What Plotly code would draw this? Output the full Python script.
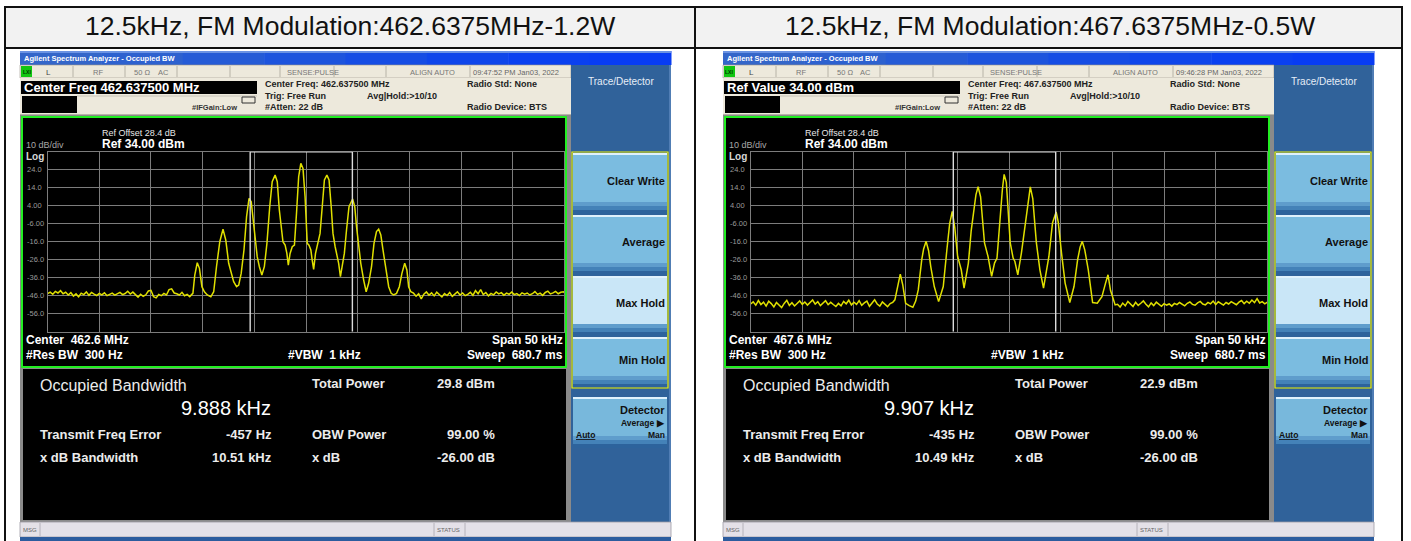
import plotly.graph_objects as go

W, H = 1411, 541
FONT = "Liberation Sans, Arial, sans-serif"

# ---------------- data ----------------
PANEL_TITLES = ["12.5kHz, FM Modulation:462.6375MHz-1.2W",
                "12.5kHz, FM Modulation:467.6375MHz-0.5W"]
ACTIVE_FIELD = ["Center Freq 462.637500 MHz", "Ref Value 34.00 dBm"]
TIMESTAMPS = ["09:47:52 PM Jan03, 2022", "09:46:28 PM Jan03, 2022"]
CENTER_FREQ_SETTING = ["462.637500 MHz", "467.637500 MHz"]
CENTER_LABEL = ["462.6 MHz", "467.6 MHz"]
OBW_KHZ = [9.888, 9.907]
TOTAL_POWER_DBM = [29.8, 22.9]
FREQ_ERROR_HZ = [-457, -435]
XDB_BW_KHZ = [10.51, 10.49]
OBW_POWER_PCT = 99.00
XDB_DB = -26.00
REF_LEVEL_DBM = 34.0
REF_OFFSET_DB = 28.4
DB_PER_DIV = 10
N_DIV = 10
SPAN_KHZ = 50
RBW_HZ = 300
VBW_KHZ = 1
SWEEP_MS = 680.7
ATTEN_DB = 22

X_GRID_KHZ = [-25, -20, -15, -10, -5, 0, 5, 10, 15, 20, 25]
Y_GRID_DBM = [34, 24, 14, 4, -6, -16, -26, -36, -46, -56, -66]
Y_TICKS = [24, 14, 4, -6, -16, -26, -36, -46, -56]
Y_TICK_LABELS = ["24.0", "14.0", "4.00", "-6.00", "-16.0", "-26.0", "-36.0", "-46.0", "-56.0"]

SOFTKEYS = ["Clear Write", "Average", "Max Hold", "Min Hold"]

# trace 1 : 462.6375 MHz, 1.2 W  (frequency offset kHz, level dBm)
TRACE_462 = [
    (-25.0, -44.8), (-24.75, -44.0), (-24.5, -45.2), (-24.25, -43.6), (-24.0, -44.5),
    (-23.75, -43.2), (-23.5, -44.9), (-23.25, -44.1), (-23.0, -45.6), (-22.75, -44.3),
    (-22.5, -46.2), (-22.25, -45.0), (-22.0, -46.6), (-21.75, -44.6), (-21.5, -45.4),
    (-21.25, -43.9), (-21.0, -45.8), (-20.75, -44.2), (-20.5, -45.1), (-20.25, -45.9),
    (-20.0, -44.7), (-19.75, -45.5), (-19.5, -44.4), (-19.25, -46.0), (-19.0, -45.3),
    (-18.75, -44.6), (-18.5, -45.7), (-18.25, -45.0), (-18.0, -44.2), (-17.75, -45.4),
    (-17.5, -44.8), (-17.25, -43.5), (-17.0, -45.1), (-16.75, -44.0), (-16.5, -45.6),
    (-16.25, -46.8), (-16.0, -45.2), (-15.75, -46.3), (-15.5, -45.5), (-15.25, -43.4),
    (-15.0, -43.0), (-14.75, -46.5), (-14.5, -47.2), (-14.25, -45.3), (-14.0, -46.0),
    (-13.75, -44.7), (-13.5, -45.6), (-13.25, -42.6), (-13.0, -42.2), (-12.75, -44.5),
    (-12.5, -44.9), (-12.25, -45.6), (-12.0, -44.1), (-11.75, -46.0), (-11.5, -45.3),
    (-11.25, -46.5), (-11.0, -45.0),
    (-10.94, -44.7), (-10.76, -34.5), (-10.52, -27.7), (-10.31, -30.8), (-10.07, -41.0),
    (-9.83, -43.8), (-9.55, -45.6), (-9.21, -46.6), (-8.93, -43.8), (-8.66, -29.9),
    (-8.34, -16.0), (-8.03, -9.0), (-7.76, -15.1), (-7.48, -28.0), (-7.20, -34.5),
    (-7.00, -38.2), (-6.72, -41.0), (-6.51, -40.1), (-6.27, -33.6), (-6.00, -20.6),
    (-5.75, -2.1), (-5.51, 8.1), (-5.30, 6.2), (-5.06, -5.8), (-4.89, -15.1),
    (-4.72, -24.3), (-4.51, -29.9), (-4.27, -34.5), (-4.03, -29.9), (-3.78, -16.9),
    (-3.51, 3.4), (-3.27, 17.3), (-2.99, 21.0), (-2.78, 17.3), (-2.58, 1.6),
    (-2.37, -9.5), (-2.23, -16.0), (-2.02, -17.9), (-1.85, -22.5), (-1.71, -29.0),
    (-1.54, -22.5), (-1.33, -18.8), (-1.12, -17.9), (-0.92, -0.3), (-0.71, 20.1),
    (-0.50, 27.5), (-0.29, 24.7), (-0.09, 9.0), (0.12, -16.9), (0.29, -17.9),
    (0.47, -20.6), (0.60, -26.2), (0.74, -31.4), (0.92, -22.5), (1.16, -16.9),
    (1.36, -11.4), (1.57, 3.4), (1.78, 18.3), (2.02, 21.0), (2.23, 18.3),
    (2.44, 3.4), (2.61, -11.4), (2.82, -18.8), (3.02, -24.3), (3.16, -28.0),
    (3.33, -35.4), (3.51, -29.9), (3.71, -22.5), (3.92, -9.5), (4.16, 3.4),
    (4.51, 7.7), (4.72, 3.4), (4.89, -7.7), (5.06, -16.9), (5.30, -28.0),
    (5.58, -37.3), (5.82, -43.8), (6.06, -39.1), (6.34, -29.9), (6.58, -16.9),
    (6.82, -10.4), (7.03, -9.0), (7.24, -12.3), (7.45, -20.6), (7.72, -31.7),
    (8.00, -41.0), (8.24, -44.7), (8.48, -45.6), (8.76, -44.7), (9.03, -41.0),
    (9.28, -33.6), (9.55, -28.0), (9.76, -31.7), (9.93, -41.0), (10.14, -43.8),
    (10.4, -44.6), (10.65, -46.3), (10.9, -44.9), (11.15, -47.8), (11.4, -45.2),
    (11.65, -43.9), (11.9, -45.7), (12.15, -44.4), (12.4, -46.1), (12.65, -44.0),
    (12.9, -45.5), (13.15, -46.7), (13.4, -44.8), (13.65, -45.9), (13.9, -44.2),
    (14.15, -46.4), (14.4, -45.1), (14.65, -43.8), (14.9, -45.6), (15.15, -44.5),
    (15.4, -46.0), (15.65, -45.3), (15.9, -44.1), (16.15, -45.8), (16.4, -43.2),
    (16.65, -44.9), (16.9, -42.6), (17.15, -45.4), (17.4, -44.2), (17.65, -46.1),
    (17.9, -44.7), (18.15, -45.5), (18.4, -43.9), (18.65, -45.0), (18.9, -44.3),
    (19.15, -45.7), (19.4, -44.6), (19.65, -45.2), (19.9, -44.0), (20.15, -45.4),
    (20.4, -44.8), (20.65, -45.9), (20.9, -44.4), (21.15, -45.1), (21.4, -44.5),
    (21.65, -45.6), (21.9, -44.9), (22.15, -43.7), (22.4, -45.3), (22.65, -44.6),
    (22.9, -45.8), (23.15, -44.2), (23.4, -43.5), (23.65, -45.0), (23.9, -44.4),
    (24.15, -43.6), (24.4, -44.9), (24.65, -44.1), (24.9, -43.8), (25.0, -44.3),
]

# trace 2 : 467.6375 MHz, 0.5 W
TRACE_467 = [
    (-25.0, -50.6), (-24.75, -49.4), (-24.5, -51.3), (-24.25, -48.7), (-24.0, -50.9),
    (-23.75, -49.6), (-23.5, -51.8), (-23.25, -49.1), (-23.0, -50.4), (-22.75, -52.2),
    (-22.5, -49.8), (-22.25, -51.0), (-22.0, -52.6), (-21.75, -50.3), (-21.5, -48.6),
    (-21.25, -51.4), (-21.0, -49.9), (-20.75, -51.7), (-20.5, -50.2), (-20.25, -48.9),
    (-20.0, -50.8), (-19.75, -49.5), (-19.5, -51.2), (-19.25, -50.0), (-19.0, -48.4),
    (-18.75, -50.7), (-18.5, -49.3), (-18.25, -51.5), (-18.0, -50.1), (-17.75, -48.8),
    (-17.5, -51.0), (-17.25, -49.7), (-17.0, -50.9), (-16.75, -52.0), (-16.5, -50.3),
    (-16.25, -51.6), (-16.0, -49.2), (-15.75, -50.5), (-15.5, -48.5), (-15.25, -51.1),
    (-15.0, -49.6), (-14.75, -50.8), (-14.5, -48.7), (-14.25, -51.3), (-14.0, -50.0),
    (-13.75, -49.0), (-13.5, -51.9), (-13.25, -49.8), (-13.0, -48.3), (-12.75, -50.6),
    (-12.5, -51.8), (-12.25, -49.5), (-12.0, -50.9), (-11.75, -52.1), (-11.5, -50.4),
    (-11.25, -49.7),
    (-11.04, -48.3), (-10.80, -41.5), (-10.52, -34.0), (-10.28, -40.0), (-10.00, -50.2),
    (-9.65, -51.5), (-9.30, -52.4), (-9.03, -49.0), (-8.78, -42.8), (-8.44, -26.0),
    (-8.26, -20.0), (-8.02, -15.8), (-7.78, -21.0), (-7.57, -29.8), (-7.23, -40.9),
    (-6.81, -49.3), (-6.36, -40.9), (-6.01, -20.5), (-5.74, -6.0), (-5.49, 0.9),
    (-5.25, -8.0), (-4.97, -24.2), (-4.62, -31.6), (-4.35, -41.8), (-3.93, -27.9),
    (-3.66, -10.0), (-3.41, 1.8), (-3.20, 10.0), (-2.99, 14.5), (-2.75, 9.0),
    (-2.37, -16.7), (-2.03, -24.2), (-1.68, -35.3), (-1.40, -27.9), (-1.16, -25.1),
    (-0.81, 1.8), (-0.64, 13.0), (-0.47, 21.4), (-0.26, 17.0), (0.12, -16.7),
    (0.40, -25.1), (0.57, -27.0), (0.85, -34.4), (1.20, -22.3), (1.61, -3.7),
    (1.85, 8.0), (2.06, 14.5), (2.30, 8.0), (2.65, -16.7), (2.99, -31.6),
    (3.34, -41.8), (3.86, -24.2), (4.21, -5.6), (4.56, 0.5), (4.76, -5.0),
    (5.08, -22.3), (5.43, -39.0), (5.88, -49.8), (6.29, -40.9), (6.64, -26.0),
    (6.88, -19.0), (7.09, -15.8), (7.33, -20.5), (7.67, -31.6), (8.09, -49.8),
    (8.54, -50.2), (8.99, -46.5), (9.34, -39.0), (9.58, -34.4), (9.82, -43.0),
    (10.03, -46.5), (10.27, -51.1),
    (10.5, -50.8), (10.75, -52.3), (11.0, -50.1), (11.25, -51.6), (11.5, -49.2),
    (11.75, -50.9), (12.0, -52.0), (12.25, -49.7), (12.5, -51.4), (12.75, -50.2),
    (13.0, -48.9), (13.25, -50.7), (13.5, -52.2), (13.75, -50.0), (14.0, -51.5),
    (14.25, -49.6), (14.5, -50.8), (14.75, -51.9), (15.0, -50.4), (15.25, -51.2),
    (15.5, -50.6), (15.75, -51.8), (16.0, -50.3), (16.25, -51.0), (16.5, -49.8),
    (16.75, -50.9), (17.0, -51.6), (17.25, -50.2), (17.5, -49.5), (17.75, -50.8),
    (18.0, -51.3), (18.25, -50.0), (18.5, -49.2), (18.75, -50.6), (19.0, -51.1),
    (19.25, -49.7), (19.5, -50.5), (19.75, -49.0), (20.0, -50.9), (20.25, -49.4),
    (20.5, -50.3), (20.75, -51.2), (21.0, -49.8), (21.25, -50.6), (21.5, -49.3),
    (21.75, -50.1), (22.0, -51.0), (22.25, -49.6), (22.5, -48.7), (22.75, -50.4),
    (23.0, -49.1), (23.25, -50.2), (23.5, -48.4), (23.75, -49.8), (24.0, -47.6),
    (24.25, -50.0), (24.5, -49.3), (24.75, -50.5), (25.0, -49.6),
]
TRACES = [TRACE_462, TRACE_467]

# ---------------- styling helpers ----------------
TRACE_COLOR = "#e0e000"
GRID_COLOR = "#7c7c7c"
shapes = []
annotations = []


def PX(x):
    return x / W


def PY(y):
    return 1 - y / H


def rect(x0, y0, x1, y1, fill, line_color=None, lw=0, layer="below"):
    shapes.append(dict(type="rect", xref="paper", yref="paper",
                       x0=PX(x0), x1=PX(x1), y0=PY(y1), y1=PY(y0),
                       fillcolor=fill, layer=layer,
                       line=dict(color=line_color or fill, width=lw)))


def line(x0, y0, x1, y1, color, lw=1, layer="below"):
    shapes.append(dict(type="line", xref="paper", yref="paper",
                       x0=PX(x0), x1=PX(x1), y0=PY(y0), y1=PY(y1),
                       line=dict(color=color, width=lw), layer=layer))


def text(x, y, s, size, color, bold=False, anchor="left", family=FONT):
    annotations.append(dict(x=PX(x), y=PY(y), xref="paper", yref="paper",
                            text=("<b>%s</b>" % s) if bold else s, showarrow=False,
                            xanchor=anchor, yanchor="middle", borderpad=0,
                            font=dict(size=size, color=color, family=family)))


NB = "\u00a0"

# ---------------- outer table ----------------
rect(4, 7, 1403, 48, "#f2f2f2")
for i, title in enumerate(PANEL_TITLES):
    cx = 350 if i == 0 else 1050
    text(cx, 26, title, 26.5, "#111111", anchor="center")

PLOT_L, PLOT_R, PLOT_T, PLOT_B = 27.6, 544.4, 151.7, 331.7


def softkey(ox, y0, y1, body):
    rect(ox + 553, y0, ox + 647, y1, body)
    rect(ox + 553, y0, ox + 647, y0 + 2, "#dff1fc")
    rect(ox + 553, y1 - 12, ox + 647, y1 - 8, "#5f9dcc")
    rect(ox + 553, y1 - 8, ox + 647, y1 - 4, "#4482b8")
    rect(ox + 553, y1 - 4, ox + 647, y1, "#2d639c")


def draw_screen(i, ox):
    # base
    rect(ox, 65, ox + 551, 522, "#8a8a8a")
    # title bar (horizontal gradient)
    blues = ["#3466c9", "#2d61cf", "#255bd6", "#1d54dd", "#164de4", "#0f46ea", "#0a40f0", "#083cf3"]
    seg = 651 / len(blues)
    for k, c in enumerate(blues):
        rect(ox + k * seg, 51, ox + (k + 1) * seg + 0.5, 65, c)
    rect(ox, 51, ox + 651, 53, "#6b93e3")
    text(ox + 3, 58, "<b>Agilent Spectrum Analyzer - Occupied BW</b>", 7.5, "#ffffff")
    # status row
    rect(ox, 65, ox + 551, 78, "#ede9dc", "#9a968c", 0.6)
    rect(ox + 1, 66, ox + 12, 77, "#11c611")
    text(ox + 6.5, 71.5, "<b>LXI</b>", 5, "#003300", anchor="center")
    for dx in [53, 105, 157, 210, 260, 314, 366, 450]:
        line(ox + dx, 66, ox + dx, 77, "#a9a59a", 0.8)
    text(ox + 28, 72, "L", 8, "#444444", anchor="center")
    text(ox + 78, 72, "RF", 7.5, "#777777", anchor="center")
    text(ox + 113, 72, "50 Ω", 7.5, "#777777")
    text(ox + 143, 72, "AC", 7.5, "#777777", anchor="center")
    text(ox + 266, 72, "SENSE:PULSE", 7.5, "#777777")
    text(ox + 389, 72, "ALIGN AUTO", 7.5, "#777777")
    text(ox + 452, 72, TIMESTAMPS[i], 7.5, "#666666")
    # header info area
    rect(ox, 78, ox + 551, 115, "#ede9dc")
    line(ox, 114.5, ox + 551, 114.5, "#b8b4a8", 1)
    rect(ox + 1, 81, ox + 237, 94, "#000000")
    text(ox + 3, 87.5, ACTIVE_FIELD[i], 13, "#ffffff", bold=True)
    rect(ox + 2, 96, ox + 57, 113, "#000000")
    line(ox + 57, 96, ox + 237, 96, "#c8c4b8", 1)
    text(ox + 218, 108, "#IFGain:Low", 7.5, "#333333", bold=True, anchor="right")
    rect(ox + 222, 97, ox + 235, 103, "rgba(0,0,0,0)", "#333333", 1)
    text(ox + 244, 84, "Center Freq: " + CENTER_FREQ_SETTING[i], 9, "#222222", bold=True)
    text(ox + 244, 95.5, "Trig: Free Run", 9, "#222222", bold=True)
    text(ox + 346, 95.5, "Avg|Hold:>10/10", 9, "#222222", bold=True)
    text(ox + 244, 107, "#Atten: %d dB" % ATTEN_DB, 9, "#222222", bold=True)
    text(ox + 446, 84, "Radio Std: None", 9, "#222222", bold=True)
    text(ox + 446, 107, "Radio Device: BTS", 9, "#222222", bold=True)
    # graticule frame
    rect(ox + 2, 117, ox + 546, 367, "#000000", "#22ee22", 2)
    text(ox + 81, 133, "Ref Offset %.1f dB" % REF_OFFSET_DB, 9, "#e6e6e6")
    text(ox + 81, 144, "Ref %.2f dBm" % REF_LEVEL_DBM, 12, "#ffffff", bold=True)
    text(ox + 5, 145.5, "%d dB/div" % DB_PER_DIV, 9, "#a8a8a8")
    text(ox + 5, 156.5, "Log", 10, "#d8d8d8", bold=True)
    yref = "y" if i == 0 else "y2"
    for v, lab in zip(Y_TICKS, Y_TICK_LABELS):
        annotations.append(dict(x=PX(ox + 6), y=v, xref="paper", yref=yref, text=lab,
                                showarrow=False, xanchor="left", yanchor="middle", borderpad=0,
                                font=dict(size=7.5, color="#9a9a9a", family=FONT)))
    text(ox + 5, 340, "Center" + NB * 2 + CENTER_LABEL[i], 12, "#ffffff", bold=True)
    text(ox + 5, 355, "#Res BW" + NB * 2 + "%d Hz" % RBW_HZ, 12, "#ffffff", bold=True)
    text(ox + 304, 355, "#VBW" + NB * 2 + "%d kHz" % VBW_KHZ, 12, "#ffffff", bold=True, anchor="center")
    text(ox + 544, 340, "Span %d kHz" % SPAN_KHZ, 12, "#ffffff", bold=True, anchor="right")
    text(ox + 544, 355, "Sweep" + NB * 2 + "%.1f ms" % SWEEP_MS, 12, "#ffffff", bold=True, anchor="right")
    # results area
    rect(ox + 3, 369, ox + 546, 520, "#000000")
    text(ox + 19, 385, "Occupied Bandwidth", 16, "#ececec")
    text(ox + 252, 408, "%.3f kHz" % OBW_KHZ[i], 20, "#ffffff", anchor="right")
    text(ox + 291, 383, "Total Power", 13, "#ececec", bold=True)
    text(ox + 476, 383, "%.1f dBm" % TOTAL_POWER_DBM[i], 13, "#ececec", bold=True, anchor="right")
    text(ox + 19, 434, "Transmit Freq Error", 13, "#ececec", bold=True)
    text(ox + 253, 434, "%d Hz" % FREQ_ERROR_HZ[i], 13, "#ececec", bold=True, anchor="right")
    text(ox + 291, 434, "OBW Power", 13, "#ececec", bold=True)
    text(ox + 476, 434, "%.2f %%" % OBW_POWER_PCT, 13, "#ececec", bold=True, anchor="right")
    text(ox + 19, 457, "x dB Bandwidth", 13, "#ececec", bold=True)
    text(ox + 253, 457, "%.2f kHz" % XDB_BW_KHZ[i], 13, "#ececec", bold=True, anchor="right")
    text(ox + 291, 457, "x dB", 13, "#ececec", bold=True)
    text(ox + 476, 457, "%.2f dB" % XDB_DB, 13, "#ececec", bold=True, anchor="right")
    # soft-key panel
    rect(ox + 551, 65, ox + 651, 522, "#30629a")
    line(ox + 650, 65, ox + 650, 522, "#5b87bd", 1.5)
    text(ox + 601, 81, "Trace/Detector", 10, "#e6eef7", anchor="center")
    key_y = [(153, 214), (215, 275), (276, 336), (337, 388)]
    for k, (lab, (y0, y1)) in enumerate(zip(SOFTKEYS, key_y)):
        softkey(ox, y0, y1, "#c9e6f7" if lab == "Max Hold" else "#7bbce0")
        text(ox + 646, (y0 + y1) / 2 - 3, lab, 11, "#111111", bold=True, anchor="right")
    rect(ox + 552, 152, ox + 648, 388, "rgba(0,0,0,0)", "#f2f200", 1.2)
    softkey(ox, 397, 448, "#78b8dc")
    text(ox + 646, 410, "Detector", 11, "#111111", bold=True, anchor="right")
    text(ox + 646, 423, "Average ▶", 8.5, "#111111", bold=True, anchor="right")
    text(ox + 555, 435, "<u>Auto</u>", 8.5, "#111111", bold=True)
    text(ox + 646, 435, "Man", 8.5, "#111111", bold=True, anchor="right")
    # message bar
    rect(ox, 522, ox + 651, 537, "#e4e1e8", "#9c9aa3", 0.8)
    line(ox + 20, 523, ox + 20, 536, "#a8a6ae", 0.8)
    line(ox + 414, 523, ox + 414, 536, "#a8a6ae", 0.8)
    line(ox + 445, 523, ox + 445, 536, "#a8a6ae", 0.8)
    text(ox + 2, 529.5, "MSG", 6, "#666666")
    text(ox + 416, 529.5, "STATUS", 6, "#666666")
    rect(ox, 537, ox + 651, 541, "#2c5c9e")


SCREEN_X = [20, 723]
for i, ox in enumerate(SCREEN_X):
    draw_screen(i, ox)

# table borders (drawn last)
rect(5, 7, 1402, 545, "rgba(0,0,0,0)", "#111111", 2)
line(5, 48, 1402, 48, "#111111", 2)
line(695, 7, 695, 545, "#111111", 2)

# ---------------- figure ----------------
fig = go.Figure()
y_lo = REF_LEVEL_DBM - DB_PER_DIV * N_DIV
for i, tr in enumerate(TRACES):
    xs = [p[0] for p in tr]
    ys = [p[1] for p in tr]
    xa = "x" if i == 0 else "x2"
    ya = "y" if i == 0 else "y2"
    fig.add_trace(go.Scatter(x=xs, y=ys, mode="lines", xaxis=xa, yaxis=ya,
                             line=dict(color=TRACE_COLOR, width=1.5),
                             hoverinfo="skip", showlegend=False))
    # OBW markers from occupied bandwidth and freq error
    fc = FREQ_ERROR_HZ[i] / 1000.0
    lo, hi = fc - OBW_KHZ[i] / 2, fc + OBW_KHZ[i] / 2
    for fx in (lo, hi):
        shapes.append(dict(type="line", xref=xa, yref=ya, x0=fx, x1=fx, y0=y_lo, y1=REF_LEVEL_DBM,
                           line=dict(color="#dcdcdc", width=1.4), layer="above"))
    shapes.append(dict(type="line", xref=xa, yref=ya, x0=lo, x1=hi, y0=REF_LEVEL_DBM, y1=REF_LEVEL_DBM,
                       line=dict(color="#dcdcdc", width=1.6), layer="above"))


def xaxis(ox, anchor):
    return dict(domain=[PX(ox + PLOT_L), PX(ox + PLOT_R)], range=[-SPAN_KHZ / 2, SPAN_KHZ / 2],
                tickvals=X_GRID_KHZ, showticklabels=False, ticks="", showgrid=True,
                gridcolor=GRID_COLOR, gridwidth=1, zeroline=False, showline=True, mirror=True,
                linecolor=GRID_COLOR, linewidth=1, anchor=anchor, fixedrange=True)


def yaxis(anchor):
    return dict(domain=[PY(PLOT_B), PY(PLOT_T)], range=[y_lo, REF_LEVEL_DBM],
                tickvals=Y_GRID_DBM, showticklabels=False, ticks="", showgrid=True,
                gridcolor=GRID_COLOR, gridwidth=1, zeroline=False, showline=True, mirror=True,
                linecolor=GRID_COLOR, linewidth=1, anchor=anchor, fixedrange=True)


fig.update_layout(
    width=W, height=H, autosize=False,
    margin=dict(l=0, r=0, t=0, b=0, pad=0),
    paper_bgcolor="#ffffff", plot_bgcolor="rgba(0,0,0,0)",
    xaxis=xaxis(SCREEN_X[0], "y"), yaxis=yaxis("x"),
    xaxis2=xaxis(SCREEN_X[1], "y2"), yaxis2=yaxis("x2"),
    shapes=shapes, annotations=annotations, showlegend=False,
    font=dict(family=FONT),
)

fig.write_html("out.html", config={"displayModeBar": False},
               post_script="document.body.style.margin='0';document.body.style.overflow='hidden';")
